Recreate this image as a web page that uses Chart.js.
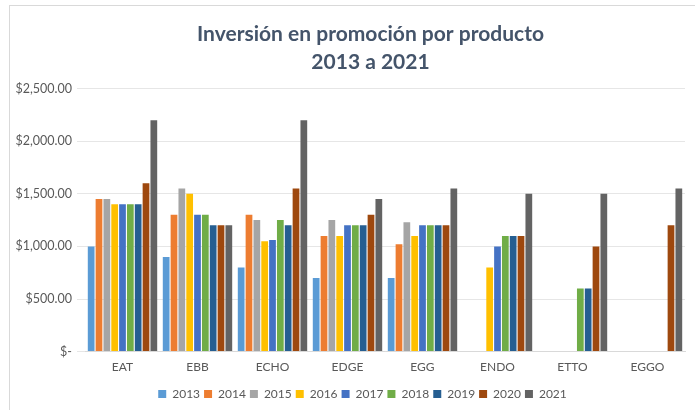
<!DOCTYPE html>
<html>
<head>
<meta charset="utf-8">
<script src="https://cdn.jsdelivr.net/npm/chart.js@4.4.1/dist/chart.umd.min.js"></script>
<style>
  html, body { margin: 0; padding: 0; background: #fff; }
  #wrap { position: relative; width: 695px; height: 410px; overflow: hidden; }
  #frame { position: absolute; left: 9px; top: 5px; width: 720px; height: 440px;
           border-left: 1px solid #d9d9d9; border-top: 1px solid #d9d9d9; }
  canvas { position: absolute; left: 0; top: 0; }
</style>
</head>
<body>
<div id="wrap">
  <div id="frame"></div>
  <canvas id="chart" width="695" height="410"></canvas>
</div>
<script>
const productos = ['EAT', 'EBB', 'ECHO', 'EDGE', 'EGG', 'ENDO', 'ETTO', 'EGGO'];
const anios = ['2013', '2014', '2015', '2016', '2017', '2018', '2019', '2020', '2021'];

// inversión por año, un valor por producto (null = sin inversión)
const v2013 = [1000, 900, 800, 700, 700, null, null, null];
const v2014 = [1450, 1300, 1300, 1100, 1020, null, null, null];
const v2015 = [1450, 1550, 1250, 1250, 1230, null, null, null];
const v2016 = [1400, 1500, 1050, 1100, 1100, 800, null, null];
const v2017 = [1400, 1300, 1060, 1200, 1200, 1000, null, null];
const v2018 = [1400, 1300, 1250, 1200, 1200, 1100, 600, null];
const v2019 = [1400, 1200, 1200, 1200, 1200, 1100, 600, null];
const v2020 = [1600, 1200, 1550, 1300, 1200, 1100, 1000, 1200];
const v2021 = [2200, 1200, 2200, 1450, 1550, 1500, 1500, 1550];

const colores = ['#5B9BD5', '#ED7D31', '#A5A5A5', '#FFC000', '#4472C4',
                 '#70AD47', '#255E91', '#9E480E', '#636363'];
const series = [v2013, v2014, v2015, v2016, v2017, v2018, v2019, v2020, v2021];

const fuente = 'Lato, "Open Sans", sans-serif';

// nudge title and legend right so they sit centred over the plot area
const centrarSobrePlot = {
  id: 'centrarSobrePlot',
  afterLayout(chart) {
    const mover = (box, dx) => { if (box) { box.left += dx; box.right += dx; } };
    mover(chart.titleBlock, 23);
    mover(chart.legend, 15);
  }
};

new Chart(document.getElementById('chart'), {
  type: 'bar',
  data: {
    labels: productos,
    datasets: series.map((d, i) => ({
      label: anios[i],
      data: d,
      backgroundColor: colores[i],
      barPercentage: 0.86,
      categoryPercentage: 0.94
    }))
  },
  plugins: [centrarSobrePlot],
  options: {
    responsive: false,
    animation: false,
    layout: { padding: { left: 10, right: 10, top: 8, bottom: 0 } },
    plugins: {
      title: {
        display: true,
        text: ['Inversión en promoción por producto', '2013 a 2021'],
        color: '#44546A',
        font: { family: fuente, size: 21, weight: 'bold', lineHeight: 1.3 },
        padding: { top: 13, bottom: 13 }
      },
      legend: {
        position: 'bottom',
        labels: {
          color: '#595959',
          boxWidth: 8,
          boxHeight: 8,
          padding: 4,
          font: { family: fuente, size: 12 }
        }
      },
      tooltip: { enabled: false }
    },
    scales: {
      x: {
        grid: { display: false },
        border: { color: '#d9d9d9' },
        // extra room under the category names, above the legend
        afterFit: (scale) => { scale.height += 10; },
        ticks: { color: '#595959', font: { family: fuente, size: 12 }, padding: 0 }
      },
      y: {
        min: 0,
        max: 2500,
        grid: { color: '#e6e6e6' },
        border: { display: false },
        afterFit: (scale) => { scale.width = 75; },
        ticks: {
          stepSize: 500,
          color: '#595959',
          padding: 5,
          font: { family: fuente, size: 12.5 },
          callback: (v) => v === 0 ? '$-' :
            '$' + v.toLocaleString('en-US', { minimumFractionDigits: 2, maximumFractionDigits: 2 })
        }
      }
    }
  }
});
</script>
</body>
</html>
